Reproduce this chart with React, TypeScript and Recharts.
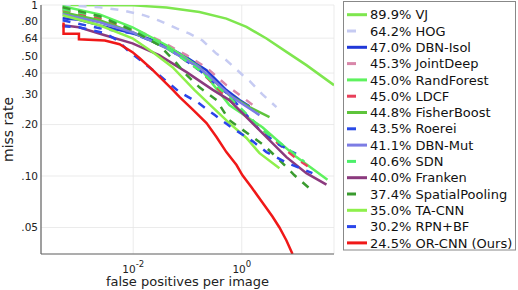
import React from 'react';
import { LineChart, Line, XAxis, YAxis, CartesianGrid } from 'recharts';

// [false positives per image, miss rate]
const VJ = [[5e-4, 1.0], [0.01, 0.995], [0.041, 0.966], [0.166, 0.91], [0.52, 0.833], [1.22, 0.744], [2.85, 0.637], [6.65, 0.532], [15.5, 0.445], [50, 0.34]];
const HOG = [[5e-4, 1.0], [0.0024, 0.97], [0.0064, 0.93], [0.016, 0.87], [0.03, 0.81], [0.063, 0.73], [0.109, 0.68], [0.189, 0.62], [0.34, 0.52], [0.52, 0.475], [1.03, 0.39], [1.39, 0.36], [2.4, 0.3], [4.35, 0.253]];
const DBN_ISOL = [[5e-4, 0.836], [0.001, 0.82], [0.0024, 0.76], [0.0097, 0.684], [0.03, 0.606], [0.096, 0.495], [0.224, 0.416], [0.52, 0.318], [0.91, 0.278], [1.39, 0.256]];
const JOINT_DEEP = [[5e-4, 0.956], [0.0024, 0.871], [0.0097, 0.731], [0.03, 0.622], [0.096, 0.509], [0.224, 0.43], [0.52, 0.34], [1.03, 0.289], [1.71, 0.256]];
const RAND_FOREST = [[5e-4, 0.983], [0.0024, 0.882], [0.0097, 0.741], [0.041, 0.582], [0.166, 0.433], [0.59, 0.26], [2.4, 0.193], [10.2, 0.129], [37.9, 0.095]];
const LDCF = [[5e-4, 0.931], [0.0024, 0.836], [0.0097, 0.711], [0.041, 0.566], [0.166, 0.416], [0.59, 0.278], [1.12, 0.233], [2.4, 0.186], [4.54, 0.156], [9.35, 0.129], [19.2, 0.11]];
const FISHER_BOOST = [[5e-4, 0.906], [0.0024, 0.814], [0.0097, 0.693], [0.041, 0.559], [0.166, 0.43], [0.59, 0.297], [1.39, 0.253], [3.24, 0.221]];
const ROEREI = [[5e-4, 0.814], [0.0024, 0.731], [0.0097, 0.684], [0.041, 0.566], [0.166, 0.416], [0.59, 0.297], [2.12, 0.186], [4.94, 0.152], [10, 0.135]];
const DBN_MUT = [[5e-4, 0.882], [0.0024, 0.793], [0.0097, 0.693], [0.041, 0.559], [0.166, 0.43], [0.67, 0.289], [2.12, 0.227]];
const SDN = [[5e-4, 0.944], [0.0024, 0.859], [0.0097, 0.722], [0.041, 0.566], [0.166, 0.416], [0.67, 0.278], [2.4, 0.186], [7.55, 0.142], [14.3, 0.121]];
const FRANKEN = [[5e-4, 0.761], [0.001, 0.741], [0.003, 0.665], [0.0097, 0.597], [0.03, 0.509], [0.096, 0.405], [0.288, 0.32], [0.59, 0.278], [2.4, 0.178], [6.65, 0.129], [15.5, 0.104], [36.3, 0.089]];
const SPATIAL_POOLING = [[5e-4, 0.97], [0.0024, 0.86], [0.0097, 0.711], [0.03, 0.582], [0.058, 0.47], [0.096, 0.39], [0.166, 0.33], [0.342, 0.278], [0.59, 0.212], [1.27, 0.178], [2.51, 0.152], [4.94, 0.124], [9.35, 0.101], [21.8, 0.08]];
const TA_CNN = [[5e-4, 0.871], [0.0024, 0.761], [0.0097, 0.639], [0.023, 0.53], [0.053, 0.433], [0.135, 0.318], [0.288, 0.253], [0.59, 0.204], [1.22, 0.167], [2.12, 0.136], [4.94, 0.111]];
const RPN_BF = [[5e-4, 0.751], [0.001, 0.741], [0.003, 0.684], [0.0051, 0.622], [0.0079, 0.544], [0.03, 0.389], [0.071, 0.31], [0.153, 0.27], [0.314, 0.228], [0.64, 0.193], [1.57, 0.16], [2.85, 0.138], [6.95, 0.119], [20, 0.104]];
const OR_CNN = [[5.2e-4, 0.79], [5.2e-4, 0.68], [0.001, 0.68], [0.001, 0.63], [0.003, 0.62], [0.0056, 0.59], [0.0097, 0.53], [0.013, 0.49], [0.023, 0.416], [0.053, 0.32], [0.071, 0.29], [0.124, 0.245], [0.224, 0.204], [0.342, 0.169], [0.52, 0.138], [0.8, 0.116], [1.03, 0.101], [1.51, 0.086], [2.4, 0.07], [3.67, 0.058], [4.94, 0.05], [6.65, 0.042], [8.6, 0.035]];

const X_TICKS = [0.01, 1];
const Y_TICKS = [0.05, 0.1, 0.2, 0.3, 0.4, 0.5, 0.64, 0.8, 1];

const SERIES = [
  { label: '89.9% VJ', points: VJ, color: '#7ee64e', dashed: false },
  { label: '64.2% HOG', points: HOG, color: '#c6cbf2', dashed: true },
  { label: '47.0% DBN-Isol', points: DBN_ISOL, color: '#2038d8', dashed: false },
  { label: '45.3% JointDeep', points: JOINT_DEEP, color: '#d987aa', dashed: true },
  { label: '45.0% RandForest', points: RAND_FOREST, color: '#5ef25e', dashed: false },
  { label: '45.0% LDCF', points: LDCF, color: '#e8405a', dashed: true },
  { label: '44.8% FisherBoost', points: FISHER_BOOST, color: '#5ec43b', dashed: false },
  { label: '43.5% Roerei', points: ROEREI, color: '#2a4ae6', dashed: true },
  { label: '41.1% DBN-Mut', points: DBN_MUT, color: '#7c7ce4', dashed: false },
  { label: '40.6% SDN', points: SDN, color: '#4cf06a', dashed: true },
  { label: '40.0% Franken', points: FRANKEN, color: '#8b3a7e', dashed: false },
  { label: '37.4% SpatialPooling', points: SPATIAL_POOLING, color: '#3a9b2f', dashed: true },
  { label: '35.0% TA-CNN', points: TA_CNN, color: '#8ef04b', dashed: false },
  { label: '30.2% RPN+BF', points: RPN_BF, color: '#2a45ea', dashed: true },
  { label: '24.5% OR-CNN (Ours)', points: OR_CNN, color: '#f01818', dashed: false },
];

const FONT = '"DejaVu Sans", sans-serif';

function PowerTick(props: any) {
  const { x, y, payload } = props;
  const exp = Math.round(Math.log10(payload.value));
  return (
    <text x={x} y={y + 19} textAnchor="middle" fontSize={10.5} fill="#222" fontFamily={FONT}>
      10<tspan dy={-6} fontSize={8.5}>{exp}</tspan>
    </text>
  );
}

const fmtMiss = (v: number) => (v >= 1 ? '1' : '.' + String(Math.round(v * 100)).padStart(2, '0'));

export default function App() {
  return (
    <div style={{ position: 'absolute', left: 0, top: 0, width: 518, height: 290, background: '#fff', fontFamily: FONT }}>
      <div style={{ position: 'absolute', left: 0, top: 0 }}>
        <LineChart width={340} height={290} margin={{ top: 5, right: 6, left: 0, bottom: 0 }}>
          <CartesianGrid stroke="#e6e6e6" strokeWidth={0.8} />
          <XAxis
            dataKey="x"
            type="number"
            scale="log"
            domain={[2e-4, 50]}
            ticks={X_TICKS}
            allowDataOverflow
            height={36}
            tickLine={false}
            tickSize={0}
            tickMargin={0}
            axisLine={{ stroke: '#666', strokeWidth: 1.2 }}
            tick={<PowerTick />}
          />
          <YAxis
            dataKey="y"
            type="number"
            scale="log"
            domain={[0.035, 1]}
            ticks={Y_TICKS}
            allowDataOverflow
            width={41}
            tickLine={false}
            tickSize={0}
            tickMargin={3}
            axisLine={{ stroke: '#666', strokeWidth: 1.2 }}
            tickFormatter={fmtMiss}
            tick={{ fontSize: 10.5, fill: '#222', fontFamily: FONT }}
          />
          {SERIES.map((s) => (
            <Line
              key={s.label}
              data={s.points.map(([x, y]) => ({ x, y }))}
              dataKey="y"
              type="linear"
              stroke={s.color}
              strokeWidth={2.5}
              strokeDasharray={s.dashed ? '8 8' : undefined}
              dot={false}
              activeDot={false}
              isAnimationActive={false}
            />
          ))}
        </LineChart>
      </div>
      <svg width={518} height={290} style={{ position: 'absolute', left: 0, top: 0, pointerEvents: 'none' }} fontFamily={FONT}>
        <text x={187.5} y={286} textAnchor="middle" fontSize={13} fill="#222">false positives per image</text>
        <text x={13} y={129.5} textAnchor="middle" fontSize={14} fill="#222" transform="rotate(-90 13 129.5)">miss rate</text>
        <rect x={343.5} y={1.5} width={172} height={248.5} fill="#fff" stroke="#888" strokeWidth={1} />
        {SERIES.map((s, i) => {
          const cy = 14.7 + 16.3 * i;
          return (
            <g key={s.label}>
              <line x1={347} x2={s.dashed ? 356 : 367} y1={cy} y2={cy} stroke={s.color} strokeWidth={3} />
              <text x={370} y={cy + 4.6} fontSize={13} fill="#111">{s.label}</text>
            </g>
          );
        })}
      </svg>
    </div>
  );
}
